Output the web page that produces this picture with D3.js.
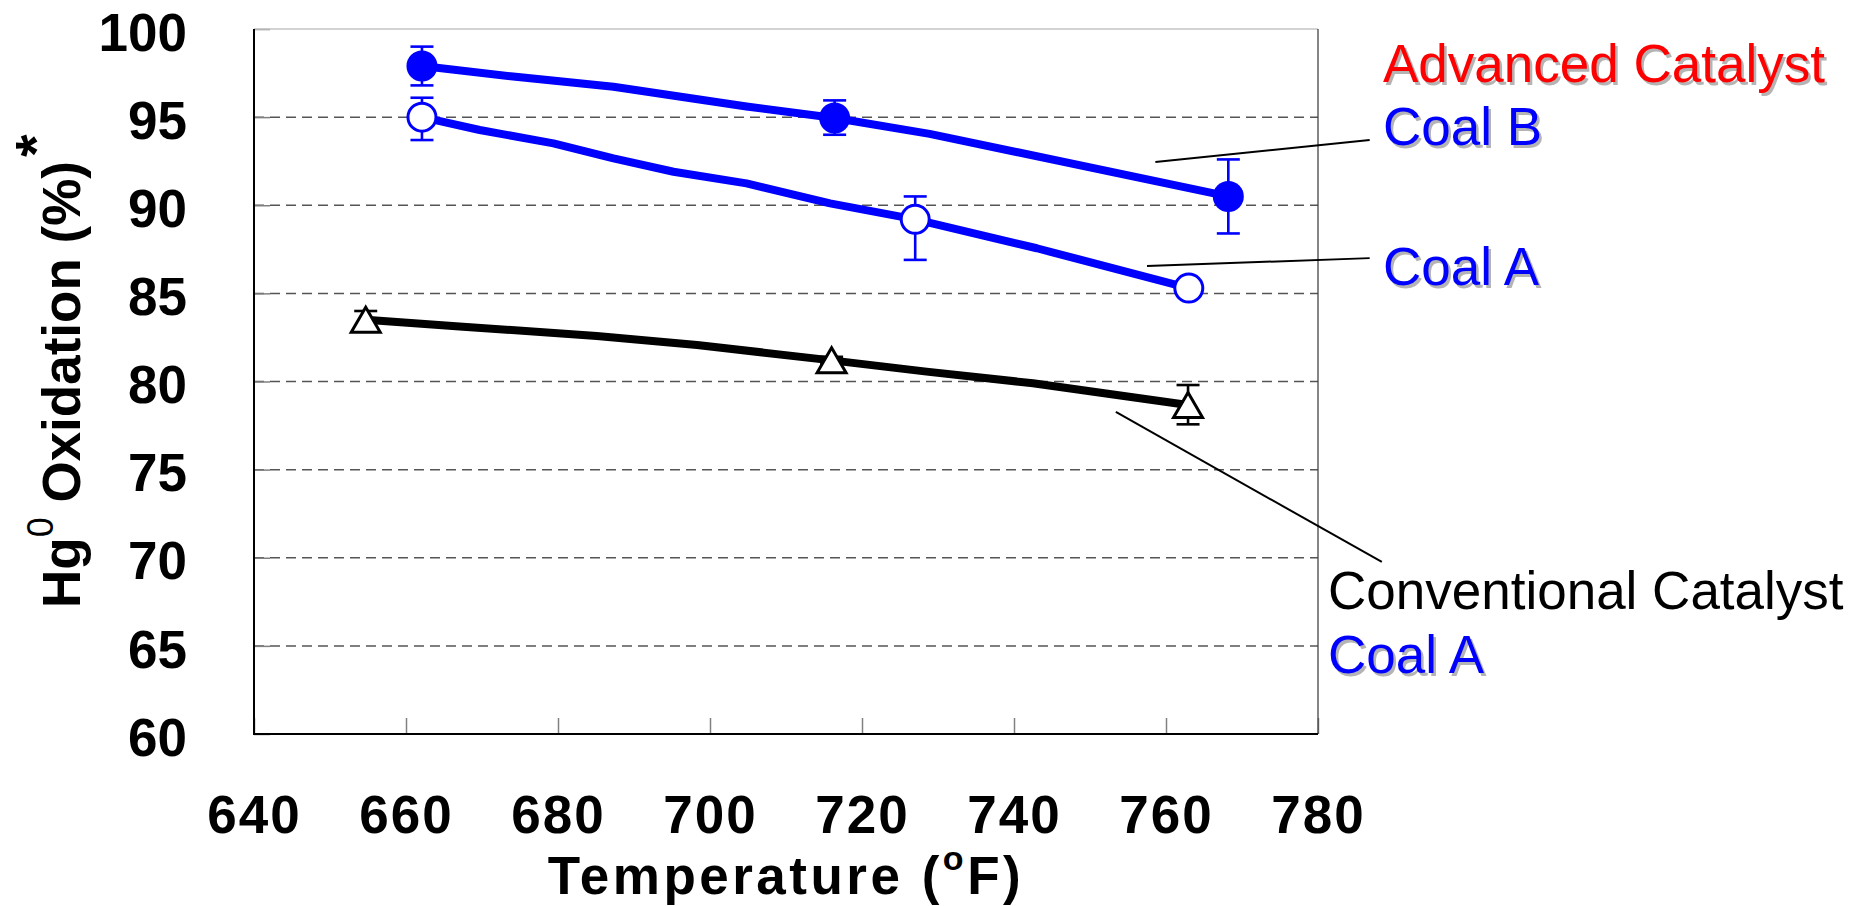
<!DOCTYPE html>
<html><head><meta charset="utf-8">
<script src="https://cdn.jsdelivr.net/npm/d3@7"></script>
<style>
body{margin:0;background:#fff;}
svg{display:block;}
text{font-family:Arial,"Liberation Sans",sans-serif;}
</style>
</head><body>
<svg id="chart" width="1870" height="906"></svg>
<script>
// ---------- data ----------
const xTicks = [640, 660, 680, 700, 720, 740, 760, 780];
const yTicks = [60, 65, 70, 75, 80, 85, 90, 95, 100];
const gridValues = [65, 70, 75, 80, 85, 90, 95];

// Advanced Catalyst, Coal B (filled circles)
const advBTemp = [662.1, 716.4, 768.2];
const advBHg   = [97.9, 94.95, 90.5];
const advBLow  = [96.8, 94.0, 88.4];
const advBHigh = [99.0, 95.95, 92.6];
const advBLineTemp = [662.1, 674.1, 687.3, 704.8, 716.4, 728.9, 768.2];
const advBLineHg   = [97.9, 97.3, 96.72, 95.6, 94.95, 94.05, 90.5];

// Advanced Catalyst, Coal A (open circles)
const advATemp = [662.1, 727.0, 763.0];
const advAHg   = [95.0, 89.2, 85.3];
const advALow  = [93.7, 86.9, 85.3];
const advAHigh = [96.1, 90.5, 85.3];
const advALineTemp = [662.1, 669.7, 679.4, 687.3, 695.2, 704.8, 715.8, 727.0, 743.0, 763.0];
const advALineHg   = [95.0, 94.27, 93.51, 92.66, 91.9, 91.24, 90.11, 89.2, 87.56, 85.3];

// Conventional Catalyst, Coal A (open triangles)
const convTemp = [654.7, 716.0, 762.9];
const convHg   = [83.5, 81.2, 78.67];
const convLow  = [83.0, 81.0, 77.57];
const convHigh = [84.0, 81.4, 79.8];
const convLineTemp = [654.7, 667.5, 685.1, 698.3, 716.0, 728.5, 742.5, 762.9];
const convLineHg   = [83.5, 83.11, 82.58, 82.07, 81.2, 80.56, 79.9, 78.67];

// leader lines (data units)
const leaderCoalB = [[758.6, 92.45], [786.8, 93.7]];
const leaderCoalA = [[757.5, 86.55], [786.8, 87.0]];
const leaderConv  = [[753.4, 78.27], [788.4, 69.76]];

// ---------- layout ----------
const svg = d3.select("#chart");
const L = 254, R = 1318, T = 29, B = 734;
const x = d3.scaleLinear().domain([640, 780]).range([L, R]);
const y = d3.scaleLinear().domain([60, 100]).range([B, T]);
const BLUE = "#0000ff";

// gridlines
svg.append("g").selectAll("line").data(gridValues).join("line")
  .attr("x1", L).attr("x2", R)
  .attr("y1", d => y(d)).attr("y2", d => y(d))
  .attr("stroke", "#555").attr("stroke-width", 1.5)
  .attr("stroke-dasharray", "10,6");

// axes
const xAxis = svg.append("g").attr("transform", `translate(0,${B})`)
  .call(d3.axisBottom(x).tickValues(xTicks).tickSizeInner(-16).tickSizeOuter(0).tickPadding(61));
const yAxis = svg.append("g").attr("transform", `translate(${L},0)`)
  .call(d3.axisLeft(y).tickValues(yTicks).tickSizeInner(-16).tickSizeOuter(0).tickPadding(67));
[xAxis, yAxis].forEach(g => {
  g.select(".domain").remove();
  g.selectAll(".tick line").attr("stroke", "#808080").attr("stroke-width", 1.5);
  g.selectAll(".tick text").attr("fill", "#000")
    .style("font-family", "Arial, 'Liberation Sans', sans-serif")
    .style("font-weight", "bold").style("font-size", "53px");
});
xAxis.selectAll(".tick text").style("letter-spacing", "2px");
yAxis.selectAll(".tick text").attr("dy", "0.4em");

// frame
svg.append("line").attr("x1", L).attr("x2", R).attr("y1", T).attr("y2", T).attr("stroke", "#c4c4c4").attr("stroke-width", 1.5);
svg.append("line").attr("x1", R).attr("x2", R).attr("y1", T).attr("y2", B).attr("stroke", "#444").attr("stroke-width", 1.3);
svg.append("line").attr("x1", L).attr("x2", L).attr("y1", T).attr("y2", B + 1).attr("stroke", "#000").attr("stroke-width", 2);
svg.append("line").attr("x1", L - 1).attr("x2", R).attr("y1", B).attr("y2", B).attr("stroke", "#000").attr("stroke-width", 2);

// lines
const line = d3.line().x(d => x(d[0])).y(d => y(d[1]));
function drawLine(ts, vs, color) {
  svg.append("path").datum(ts.map((t, i) => [t, vs[i]]))
    .attr("d", line).attr("fill", "none").attr("stroke", color)
    .attr("stroke-width", 8).attr("stroke-linejoin", "round");
}
drawLine(advBLineTemp, advBLineHg, BLUE);
drawLine(advALineTemp, advALineHg, BLUE);
drawLine(convLineTemp, convLineHg, "#000");

// error bars
function drawErr(ts, lo, hi, color) {
  const g = svg.append("g").attr("stroke", color).attr("stroke-width", 2.6);
  ts.forEach((t, i) => {
    if (hi[i] - lo[i] <= 0) return;
    const cx = x(t);
    g.append("line").attr("x1", cx).attr("x2", cx).attr("y1", y(lo[i])).attr("y2", y(hi[i]));
    g.append("line").attr("x1", cx - 11.5).attr("x2", cx + 11.5).attr("y1", y(lo[i])).attr("y2", y(lo[i]));
    g.append("line").attr("x1", cx - 11.5).attr("x2", cx + 11.5).attr("y1", y(hi[i])).attr("y2", y(hi[i]));
  });
}
drawErr(advBTemp, advBLow, advBHigh, BLUE);
drawErr(advATemp, advALow, advAHigh, BLUE);
drawErr(convTemp, convLow, convHigh, "#000");

// markers
svg.append("g").selectAll("circle").data(advBTemp).join("circle")
  .attr("cx", d => x(d)).attr("cy", (d, i) => y(advBHg[i])).attr("r", 15.5).attr("fill", BLUE);
svg.append("g").selectAll("circle").data(advATemp).join("circle")
  .attr("cx", d => x(d)).attr("cy", (d, i) => y(advAHg[i])).attr("r", 14)
  .attr("fill", "#fff").attr("stroke", BLUE).attr("stroke-width", 3);
svg.append("g").selectAll("path").data(convTemp).join("path")
  .attr("d", "M0,-12.5 L14.5,12.5 L-14.5,12.5 Z")
  .attr("transform", (d, i) => `translate(${x(d)},${y(convHg[i])})`)
  .attr("fill", "#fff").attr("stroke", "#000").attr("stroke-width", 3).attr("stroke-linejoin", "miter");

// leader lines
[leaderCoalB, leaderCoalA, leaderConv].forEach(p => {
  svg.append("line").attr("x1", x(p[0][0])).attr("y1", y(p[0][1]))
    .attr("x2", x(p[1][0])).attr("y2", y(p[1][1]))
    .attr("stroke", "#000").attr("stroke-width", 2);
});

// annotation texts
function label(txt, px, py, color, shadow) {
  if (shadow) {
    svg.append("text").attr("x", px + 2.5).attr("y", py + 2.5).text(txt)
      .attr("fill", "#b4b4b4").style("font-size", "53px");
  }
  svg.append("text").attr("x", px).attr("y", py).text(txt)
    .attr("fill", color).style("font-size", "53px");
}
label("Advanced Catalyst", 1383, 82, "#ff0000", true);
label("Coal B", 1383, 145, BLUE, true);
label("Coal A", 1383, 285, BLUE, true);
label("Conventional Catalyst", 1328, 609, "#000", false);
label("Coal A", 1328, 673, BLUE, true);

// x axis title
const xt = svg.append("text").attr("x", (L + R) / 2).attr("y", 894)
  .attr("text-anchor", "middle").style("font-weight", "bold").style("font-size", "53px")
  .style("letter-spacing", "3.5px");
xt.append("tspan").text("Temperature (");
xt.append("tspan").text("o").style("font-size", "34px").attr("dy", -24);
xt.append("tspan").text("F)").attr("dy", 24);

// y axis title
const yt = svg.append("text").attr("transform", "translate(80,608) rotate(-90)")
  .style("font-weight", "bold").style("font-size", "53px");
yt.append("tspan").text("Hg");
yt.append("tspan").text("0").style("font-size", "36px").style("font-weight", "normal").attr("dy", -27);
yt.append("tspan").text(" Oxidation (%)").attr("dy", 27);
yt.append("tspan").text("*").style("font-size", "58px").attr("dy", -24).attr("dx", 4);
</script>
</body></html>
